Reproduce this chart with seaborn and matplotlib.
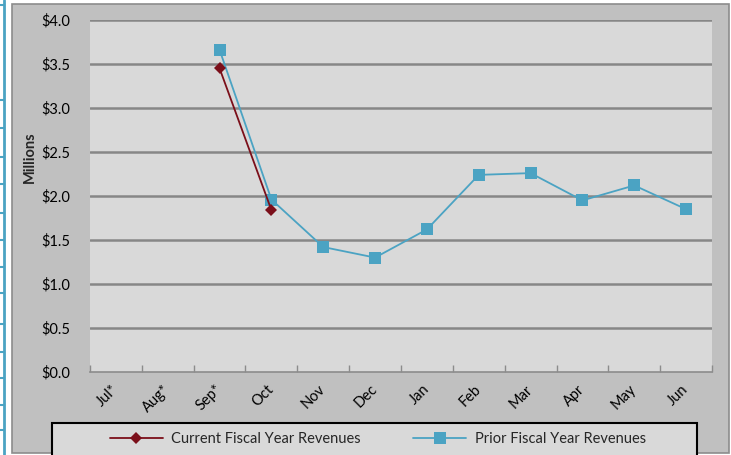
import matplotlib
matplotlib.use("Agg")
import matplotlib.pyplot as plt
import seaborn as sns
import numpy as np
import pandas as pd
from matplotlib.patches import Rectangle
from matplotlib.lines import Line2D

months = ["Jul*", "Aug*", "Sep*", "Oct", "Nov", "Dec", "Jan", "Feb", "Mar", "Apr", "May", "Jun"]
current = [np.nan, np.nan, 3.45, 1.84, np.nan, np.nan, np.nan, np.nan, np.nan, np.nan, np.nan, np.nan]
prior = [np.nan, np.nan, 3.66, 1.96, 1.42, 1.30, 1.62, 2.24, 2.26, 1.95, 2.12, 1.85]
yticks = [0.0, 0.5, 1.0, 1.5, 2.0, 2.5, 3.0, 3.5, 4.0]
ytick_labels = ["$0.0", "$0.5", "$1.0", "$1.5", "$2.0", "$2.5", "$3.0", "$3.5", "$4.0"]

sns.set_theme(style="white")
plt.rcParams['font.family'] = ['Lato', 'DejaVu Sans']

W, H = 731, 455
fig = plt.figure(figsize=(W / 100, H / 100), dpi=100)
fig.patch.set_facecolor("white")

def fx(x):
    return x / W

def fy(y):
    return 1 - y / H

# chart area
fig.patches.append(Rectangle((fx(12), fy(453)), fx(729) - fx(12), fy(4) - fy(453),
                             transform=fig.transFigure, facecolor="#c0c0c0",
                             edgecolor="#8c8c8c", linewidth=1.2, zorder=0))
# left table border strip
blue = "#4ba3c3"
fig.lines.append(Line2D([fx(4), fx(4)], [0, 1], transform=fig.transFigure, color=blue, lw=2))
for yy in [5, 100, 128, 157, 184, 213, 240, 267, 293, 324, 352, 378, 405, 430]:
    fig.lines.append(Line2D([0, fx(4)], [fy(yy), fy(yy)], transform=fig.transFigure, color=blue, lw=1.5))

ax = fig.add_axes([fx(90), fy(372), fx(712) - fx(90), fy(20) - fy(372)])
ax.set_zorder(2)
ax.set_facecolor("#d9d9d9")

df = pd.DataFrame({"idx": np.arange(len(months)), "month": months,
                   "current": current, "prior": prior})

sns.lineplot(data=df, x="idx", y="prior", ax=ax, color="#4ba3c3", lw=1.3,
             marker="s", markersize=8, markeredgewidth=0, zorder=3)
sns.lineplot(data=df, x="idx", y="current", ax=ax, color="#7b0f1a", lw=1.3,
             marker="D", markersize=6, markeredgewidth=0, zorder=4)

ax.set_xlim(-0.5, 11.5)
ax.set_ylim(0, 4.0)
ax.set_yticks(yticks)
ax.set_yticklabels(ytick_labels)
for y in yticks[1:]:
    ax.axhline(y, color="#878787", lw=1.8, zorder=1)

ax.set_xticks(np.arange(len(months)))
ax.set_xticklabels(months, rotation=45, ha="right", va="center", rotation_mode="anchor")
ax.tick_params(axis="x", which="major", bottom=False, length=0, pad=11, labelsize=10.5, colors="black")
ax.set_xticks(np.arange(-0.5, 12.0, 1.0), minor=True)
ax.tick_params(axis="x", which="minor", bottom=True, direction="in", length=5, width=1, color="#8c8c8c")
ax.tick_params(axis="y", length=0, pad=14, labelsize=10.5, colors="black")

for s in ["top", "right", "left"]:
    ax.spines[s].set_visible(False)
ax.spines["bottom"].set_color("#8c8c8c")
ax.spines["bottom"].set_linewidth(1.2)
ax.set_xlabel("")
ax.set_ylabel("")

fig.text(fx(30), fy(157), "Millions", rotation=90, ha="center", va="center",
         fontsize=10.5, fontweight="bold", zorder=3)

# legend box
fig.patches.append(Rectangle((fx(52), fy(470)), fx(697) - fx(52), fy(423) - fy(470),
                             transform=fig.transFigure, facecolor="#d9d9d9",
                             edgecolor="black", linewidth=1.5, zorder=1))
handles = [Line2D([], [], color="#7b0f1a", lw=1.3, marker="D", markersize=6, markeredgewidth=0),
           Line2D([], [], color="#4ba3c3", lw=1.3, marker="s", markersize=8, markeredgewidth=0)]
leg = fig.legend(handles, ["Current Fiscal Year Revenues", "Prior Fiscal Year Revenues"],
                 loc="center", bbox_to_anchor=(fx(378), fy(439)), ncol=2, frameon=False,
                 fontsize=10.5, handlelength=3.6, handletextpad=0.6, columnspacing=3.6)
leg.set_zorder(5)

fig.savefig("out.png", dpi=100, facecolor="white")
